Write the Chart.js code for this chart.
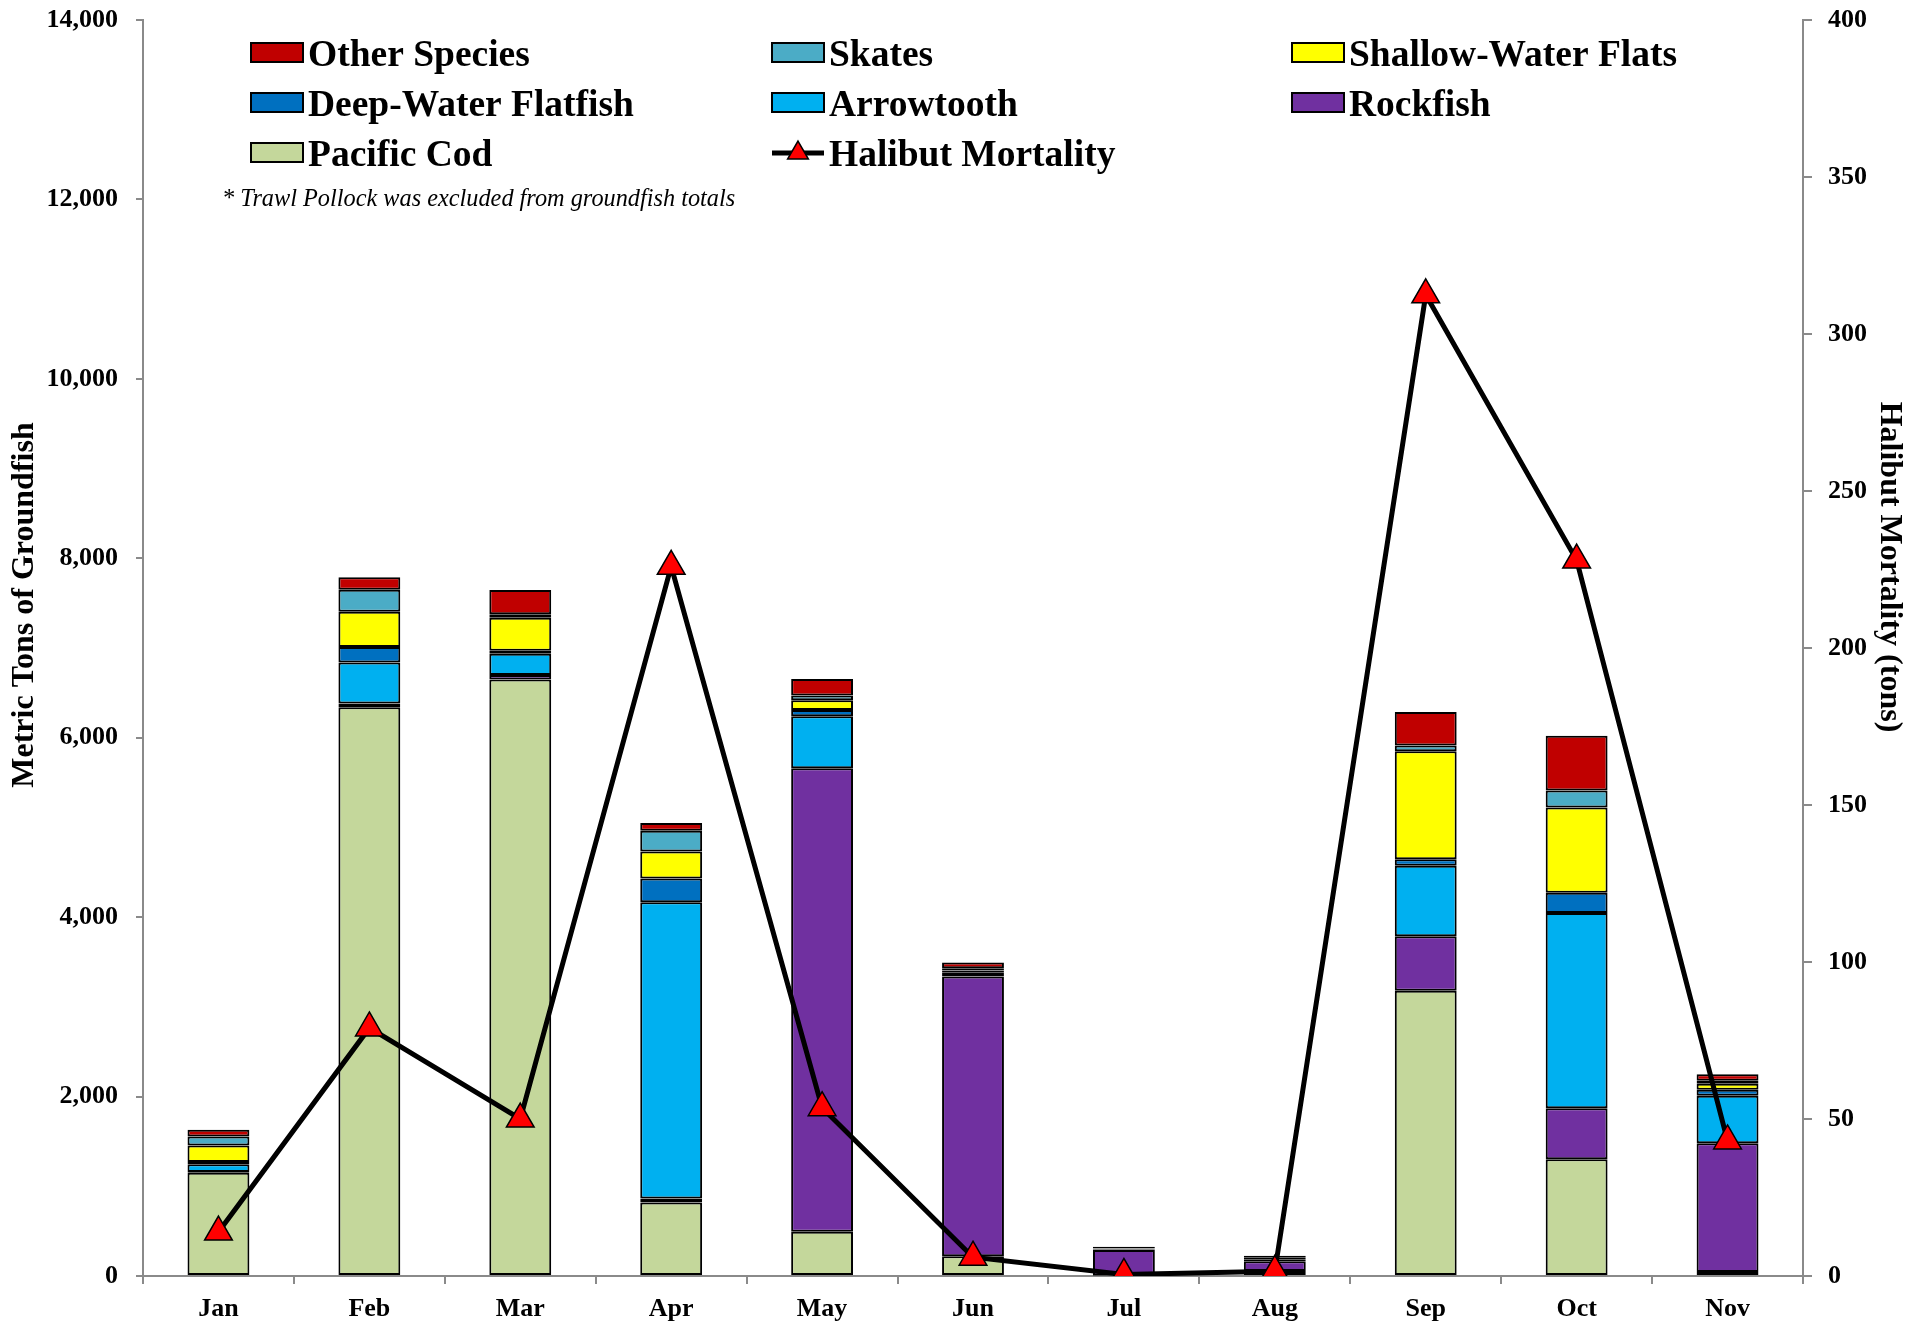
<!DOCTYPE html>
<html>
<head>
<meta charset="utf-8">
<script src="https://cdn.jsdelivr.net/npm/chart.js@4/dist/chart.umd.min.js"></script>
<style>
html,body{margin:0;padding:0;background:#fff;overflow:hidden;}
#wrap{width:1921px;height:1326px;position:relative;}
</style>
</head>
<body>
<div id="wrap"><canvas id="c"></canvas></div>
<script>
const months = ['Jan','Feb','Mar','Apr','May','Jun','Jul','Aug','Sep','Oct','Nov'];
const pacificCod   = [1150, 6340, 6650,  820,  492,  220,   5,  55, 3180, 1300,   45];
const rockfish     = [  10,   40,   48,   45, 5168, 3117, 285, 110,  606,  570, 1434];
const arrowtooth   = [  85,  459,  239, 3300,  578,   28,   5,  15,  786, 2175,  529];
const deepWater    = [  25,  171,   32,  267,   72,   20,   5,  10,   72,  228,   67];
const shallowFlats = [ 185,  395,  367,  299,  108,   20,   5,  10, 1205,  950,   67];
const skates       = [ 100,  243,   40,  231,   52,   25,   5,  10,   64,  188,   33];
const otherSpecies = [  75,  140,  271,   88,  184,   64,  15,  15,  375,  611,   74];
const halibutMortality = [14, 79, 50, 226, 53.6, 6, 0.5, 1.5, 312.5, 228, 43];
const leftTicks = [0, 2000, 4000, 6000, 8000, 10000, 12000, 14000];
const rightTicks = [0, 50, 100, 150, 200, 250, 300, 350, 400];
const noteText = '* Trawl Pollock was excluded from groundfish totals';
const leftTitle = 'Metric Tons of Groundfish';
const rightTitle = 'Halibut Mortality (tons)';

const SERIF = '"Liberation Serif", "Times New Roman", serif';
const AXIS_GRAY = '#8a8a8a';

function bar(label, data, color) {
  return {type:'bar', label, data, backgroundColor:color, borderColor:'#000', borderWidth:2,
          borderSkipped:false, yAxisID:'y', order:1, barPercentage:0.41, categoryPercentage:1.0, stack:'g'};
}

const datasets = [
  bar('Pacific Cod', pacificCod, '#C4D79B'),
  bar('Rockfish', rockfish, '#7030A0'),
  bar('Arrowtooth', arrowtooth, '#00B0F0'),
  bar('Deep-Water Flatfish', deepWater, '#0070C0'),
  bar('Shallow-Water Flats', shallowFlats, '#FFFF00'),
  bar('Skates', skates, '#4BACC6'),
  bar('Other Species', otherSpecies, '#C00000'),
  {type:'line', label:'Halibut Mortality', data:halibutMortality, yAxisID:'y1', order:0,
   borderColor:'#000', borderWidth:5, tension:0, fill:false,
   pointStyle:'triangle', pointRadius:16, pointHoverRadius:16,
   pointBackgroundColor:'#FF0000', pointBorderColor:'#000', pointBorderWidth:1.5}
];

function drawTri(ctx, x, y, r) {
  ctx.beginPath();
  let a = 0;
  ctx.moveTo(x + Math.sin(a)*r, y - Math.cos(a)*r);
  a += 2*Math.PI/3;
  ctx.lineTo(x + Math.sin(a)*r, y - Math.cos(a)*r);
  a += 2*Math.PI/3;
  ctx.lineTo(x + Math.sin(a)*r, y - Math.cos(a)*r);
  ctx.closePath();
  ctx.fillStyle = '#FF0000';
  ctx.fill();
  ctx.lineWidth = 1.5;
  ctx.strokeStyle = '#000';
  ctx.stroke();
}

const legendLayout = [
  ['Other Species', 251, 66], ['Skates', 772, 66], ['Shallow-Water Flats', 1292, 66],
  ['Deep-Water Flatfish', 251, 116], ['Arrowtooth', 772, 116], ['Rockfish', 1292, 116],
  ['Pacific Cod', 251, 166], ['Halibut Mortality', 772, 166]
];

const decor = {
  id:'decor',
  afterDraw(chart) {
    const ctx = chart.ctx;
    ctx.save();
    ctx.font = 'bold 37.5px ' + SERIF;
    ctx.textBaseline = 'alphabetic';
    ctx.textAlign = 'left';
    legendLayout.forEach(([name, x, base]) => {
      const ds = chart.data.datasets.find(d => d.label === name);
      if (!ds) return;
      if (ds.type === 'line') {
        const cy = base - 13;
        ctx.beginPath();
        ctx.moveTo(x, cy); ctx.lineTo(x + 52, cy);
        ctx.lineWidth = 5; ctx.strokeStyle = '#000'; ctx.stroke();
        drawTri(ctx, x + 26, cy, 12);
      } else {
        ctx.fillStyle = ds.backgroundColor;
        ctx.fillRect(x, base - 23, 52, 19);
        ctx.lineWidth = 2; ctx.strokeStyle = '#000';
        ctx.strokeRect(x, base - 23, 52, 19);
      }
      ctx.fillStyle = '#000';
      ctx.fillText(name, x + 57, base);
    });
    ctx.font = 'italic 24.3px ' + SERIF;
    ctx.fillText(noteText, 222, 206);
    ctx.font = 'bold 32px ' + SERIF;
    ctx.textAlign = 'center';
    ctx.textBaseline = 'middle';
    ctx.save();
    ctx.translate(25, 605);
    ctx.rotate(-Math.PI/2);
    ctx.fillText(leftTitle, 0, 0);
    ctx.restore();
    ctx.save();
    ctx.translate(1889, 567);
    ctx.rotate(Math.PI/2);
    ctx.fillText(rightTitle, 0, 0);
    ctx.restore();
    ctx.restore();
  }
};

function noPad(s) { s.paddingTop = 0; s.paddingBottom = 0; s.paddingLeft = 0; s.paddingRight = 0; }

new Chart(document.getElementById('c'), {
  data:{labels:months, datasets},
  options:{
    responsive:true, maintainAspectRatio:false, animation:false,
    layout:{padding:{top:20, left:0, right:0, bottom:0}},
    plugins:{legend:{display:false}, tooltip:{enabled:false}},
    scales:{
      x:{
        stacked:true, offset:true,
        grid:{display:true, offset:true, drawOnChartArea:false, drawTicks:true, tickLength:8, color:AXIS_GRAY, lineWidth:2},
        border:{display:true, color:AXIS_GRAY, width:2},
        ticks:{color:'#000', font:{family:SERIF, size:26, weight:'bold'}, padding:10, maxRotation:0},
        afterFit(s){ s.height = 50; noPad(s); }
      },
      y:{
        position:'left', stacked:true, min:0, max:14000,
        afterBuildTicks(s){ s.ticks = leftTicks.map(v => ({value:v})); },
        grid:{drawOnChartArea:false, drawTicks:true, tickLength:7, color:AXIS_GRAY, lineWidth:2},
        border:{display:true, color:AXIS_GRAY, width:2},
        ticks:{color:'#000', font:{family:SERIF, size:26, weight:'bold'}, padding:18,
               callback:(v)=>Number(v).toLocaleString('en-US')},
        afterFit(s){ s.width = 143; noPad(s); }
      },
      y1:{
        position:'right', stacked:false, min:0, max:400,
        afterBuildTicks(s){ s.ticks = rightTicks.map(v => ({value:v})); },
        grid:{drawOnChartArea:false, drawTicks:true, tickLength:9, color:AXIS_GRAY, lineWidth:2},
        border:{display:true, color:AXIS_GRAY, width:2},
        ticks:{color:'#000', font:{family:SERIF, size:26, weight:'bold'}, padding:16},
        afterFit(s){ s.width = 118; noPad(s); }
      }
    }
  },
  plugins:[decor]
});
</script>
</body>
</html>
